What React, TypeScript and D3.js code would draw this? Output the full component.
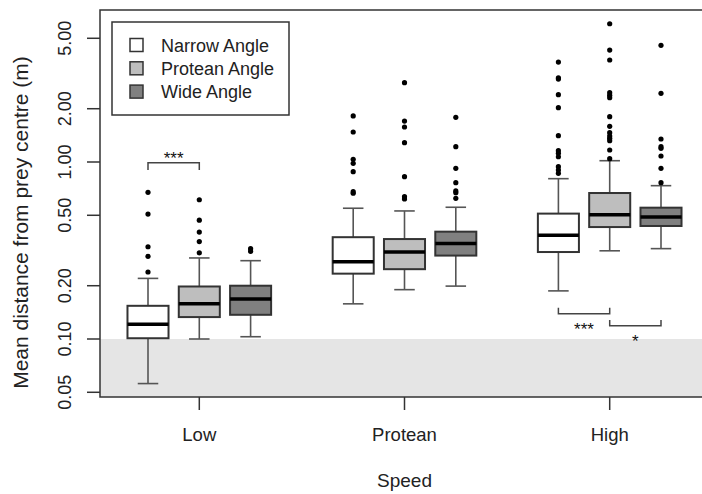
import React from 'react'
import { scaleLinear, scaleLog } from 'd3'

// groups on the x axis and the three angle treatments inside each group
const speeds = ['Low', 'Protean', 'High']
const angles = ['Narrow Angle', 'Protean Angle', 'Wide Angle']

// box statistics, 9 boxes: Low(N,P,W), Protean(N,P,W), High(N,P,W)
const whiskerLow = [0.056, 0.100, 0.103, 0.158, 0.190, 0.199, 0.187, 0.315, 0.324]
const q1 = [0.101, 0.133, 0.137, 0.234, 0.248, 0.296, 0.310, 0.429, 0.435]
const medians = [0.121, 0.158, 0.168, 0.273, 0.310, 0.346, 0.385, 0.504, 0.489]
const q3 = [0.154, 0.198, 0.200, 0.376, 0.367, 0.404, 0.511, 0.668, 0.552]
const whiskerHigh = [0.220, 0.287, 0.277, 0.548, 0.529, 0.555, 0.805, 1.017, 0.735]

const outliers = [
    [0.674, 0.508, 0.332, 0.293, 0.239],
    [0.612, 0.469, 0.402, 0.355, 0.307],
    [0.324, 0.313],
    [1.82, 1.477, 1.036, 0.983, 0.882, 0.680, 0.666],
    [2.805, 1.704, 1.577, 1.285, 0.826, 0.637, 0.618],
    [1.789, 1.22, 0.921, 0.764, 0.686, 0.671, 0.6235],
    [3.67, 2.99, 2.94, 2.40, 2.027, 1.408, 1.158, 1.12, 1.071, 0.941, 0.901, 0.863],
    [6.04, 4.29, 3.77, 2.463, 2.382, 2.308, 1.803, 1.591, 1.464, 1.402, 1.361, 1.319, 1.169, 1.044],
    [4.56, 2.444, 1.349, 1.22, 1.195, 1.081, 0.921, 0.764],
]

const yTicks = [0.05, 0.1, 0.2, 0.5, 1, 2, 5]

// significance brackets: from box, to box, bar level, end level, label
const sigFrom = [0, 6, 7]
const sigTo = [1, 7, 8]
const sigBar = [0.99, 0.139, 0.119]
const sigEnd = [0.90, 0.150, 0.128]
const sigLabel = ['***', '***', '*']

const fills = ['#ffffff', '#bebebe', '#808080']
const font = '"Liberation Sans", Arial, sans-serif'

const W = 702
const H = 494
const plot = { left: 100, top: 10, right: 703, bottom: 397 }

const App = () => {
    // box position: 1..11 with an empty slot between groups
    const pos = (i: number) => Math.floor(i / 3) * 4 + (i % 3) + 1
    const x = scaleLinear().domain([1, 11]).range([148, 661])
    const y = scaleLog().domain([0.1, 1]).range([339, 162])
    const halfBox = (x(2) - x(1)) * 0.4
    const halfCap = halfBox * 0.5

    const boxes = medians.map((m, i) => ({
        i,
        cx: x(pos(i)),
        fill: fills[i % 3],
    }))

    return (
        <svg width={W} height={H} style={{ position: 'absolute', left: 0, top: 0, fontFamily: font }}>
            <rect x={0} y={0} width={W} height={H} fill="#fff" />
            {/* shaded zone below 0.10 */}
            <rect x={plot.left} y={y(0.1)} width={plot.right - plot.left} height={plot.bottom - y(0.1)} fill="#e5e5e5" />

            {boxes.map(b => (
                <g key={b.i}>
                    <line x1={b.cx} x2={b.cx} y1={y(whiskerHigh[b.i])} y2={y(q3[b.i])} stroke="#555" strokeWidth={1.6} />
                    <line x1={b.cx} x2={b.cx} y1={y(q1[b.i])} y2={y(whiskerLow[b.i])} stroke="#555" strokeWidth={1.6} />
                    <line x1={b.cx - halfCap} x2={b.cx + halfCap} y1={y(whiskerHigh[b.i])} y2={y(whiskerHigh[b.i])} stroke="#555" strokeWidth={1.6} />
                    <line x1={b.cx - halfCap} x2={b.cx + halfCap} y1={y(whiskerLow[b.i])} y2={y(whiskerLow[b.i])} stroke="#555" strokeWidth={1.6} />
                    <rect x={b.cx - halfBox} y={y(q3[b.i])} width={halfBox * 2} height={y(q1[b.i]) - y(q3[b.i])}
                        fill={b.fill} stroke="#333" strokeWidth={2} />
                    <line x1={b.cx - halfBox} x2={b.cx + halfBox} y1={y(medians[b.i])} y2={y(medians[b.i])} stroke="#000" strokeWidth={3.5} />
                    {outliers[b.i].map((v, k) => (
                        <circle key={k} cx={b.cx} cy={y(v)} r={2.6} fill="#000" />
                    ))}
                </g>
            ))}

            {/* significance brackets */}
            {sigLabel.map((lab, k) => {
                const x1 = x(pos(sigFrom[k]))
                const x2 = x(pos(sigTo[k]))
                const yb = y(sigBar[k])
                const ye = y(sigEnd[k])
                const above = sigEnd[k] < sigBar[k]
                return (
                    <g key={k}>
                        <path d={`M${x1},${ye}V${yb}H${x2}V${ye}`} fill="none" stroke="#444" strokeWidth={1.5} />
                        <text x={(x1 + x2) / 2} y={above ? yb - 9 + 10 : yb + 21} textAnchor="middle" fontSize={17} fill="#111">{lab}</text>
                    </g>
                )
            })}

            {/* frame */}
            <rect x={plot.left} y={plot.top} width={plot.right - plot.left} height={plot.bottom - plot.top} fill="none" stroke="#333" strokeWidth={1.5} />

            {/* y axis */}
            {yTicks.map(t => (
                <g key={t}>
                    <line x1={87} x2={plot.left} y1={y(t)} y2={y(t)} stroke="#333" strokeWidth={1.5} />
                    <text transform={`translate(71,${y(t)}) rotate(-90)`} textAnchor="middle" fontSize={18} fill="#222">{t.toFixed(2)}</text>
                </g>
            ))}
            <text transform={`translate(28,${(53 + 392) / 2}) rotate(-90)`} textAnchor="middle" fontSize={21} fill="#222">
                Mean distance from prey centre (m)
            </text>

            {/* x axis */}
            {speeds.map((s, g) => {
                const cx = x(pos(g * 3 + 1))
                return (
                    <g key={s}>
                        <line x1={cx} x2={cx} y1={plot.bottom} y2={410} stroke="#333" strokeWidth={1.5} />
                        <text x={cx} y={441} textAnchor="middle" fontSize={18.5} fill="#222">{s}</text>
                    </g>
                )
            })}
            <text x={x(pos(4))} y={487} textAnchor="middle" fontSize={19} fill="#222">Speed</text>

            {/* legend */}
            <rect x={112} y={22} width={177} height={93} fill="#fff" stroke="#333" strokeWidth={1.5} />
            {angles.map((a, k) => {
                const ry = 45 + k * 23.3
                return (
                    <g key={a}>
                        <rect x={130} y={ry - 6.5} width={13} height={13} fill={fills[k]} stroke="#333" strokeWidth={1.5} />
                        <text x={161} y={ry + 6.5} fontSize={18} fill="#222">{a}</text>
                    </g>
                )
            })}
        </svg>
    )
}

export default App
